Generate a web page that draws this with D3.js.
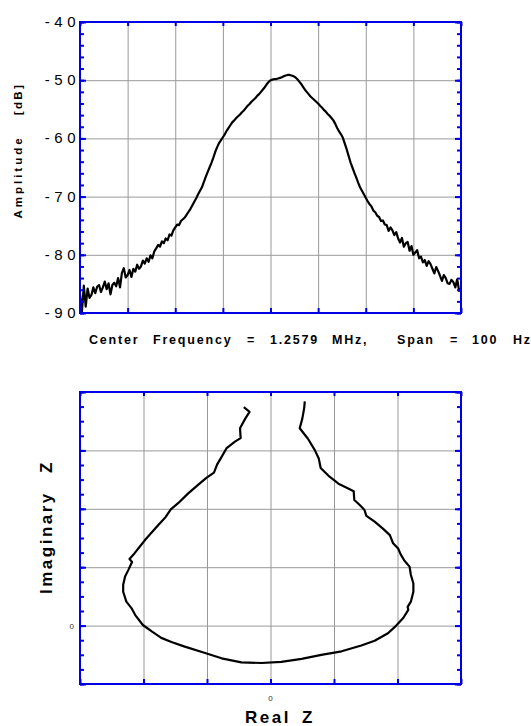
<!DOCTYPE html>
<html>
<head>
<meta charset="utf-8">
<script src="https://d3js.org/d3.v7.min.js"></script>
<style>
  body { margin: 0; background: #fff; }
  svg { display: block; font-family: "Liberation Sans", Arial, sans-serif; }
</style>
</head>
<body>
<svg id="drawing_region"></svg>
<script>
// spectrum around the centre frequency, one sample every 0.5 Hz
const spanStartHz = -50;
const spanStepHz = 0.5;
const amplitudeDb = [
  -86.8, -89.8, -85.3, -88.9, -85.8, -87.4, -86.9, -85.6, -86.6, -85.5,
  -85.2, -86.4, -85.6, -84.6, -85.9, -84.9, -86.8, -85.2, -84.8, -85.4,
  -84.0, -85.6, -83.1, -82.3, -83.9, -83.5, -82.6, -83.8, -82.4, -82.9,
  -81.7, -82.4, -82.0, -81.0, -81.5, -80.6, -81.2, -80.1, -80.6, -79.4,
  -78.9, -78.3, -78.6, -77.7, -78.0, -77.2, -77.5, -76.5, -76.7, -75.8,
  -75.3, -74.8, -74.9, -74.2, -73.9, -73.6, -73.1, -72.6, -72.1, -71.5,
  -70.9, -70.3, -69.6, -69.0, -68.4, -67.5, -66.6, -65.8, -65.0, -64.2,
  -63.3, -62.3, -61.5, -60.8, -60.3, -59.8, -59.3, -58.7, -58.2, -57.7,
  -57.2, -56.9, -56.5, -56.2, -55.9, -55.5, -55.2, -54.8, -54.4, -54.1,
  -53.7, -53.4, -53.1, -52.7, -52.4, -52.0, -51.6, -51.2, -50.7, -50.3,
  -50.0, -49.9, -49.8, -49.8, -49.7, -49.6, -49.5, -49.3, -49.2, -49.1,
  -49.1, -49.2, -49.3, -49.5, -49.8, -50.2, -50.6, -51.1, -51.6, -52.0,
  -52.4, -52.8, -53.1, -53.4, -53.7, -54.0, -54.4, -54.7, -55.1, -55.4,
  -55.8, -56.1, -56.5, -56.9, -57.5, -58.2, -58.8, -59.3, -59.9, -60.9,
  -61.9, -63.0, -64.1, -65.0, -65.9, -66.7, -67.6, -68.4, -69.0, -69.6,
  -70.2, -70.8, -71.3, -71.7, -72.4, -72.7, -73.3, -73.5, -74.2, -74.1,
  -74.8, -74.9, -75.9, -75.3, -75.8, -76.6, -76.1, -77.2, -77.9, -77.1,
  -78.6, -78.0, -77.8, -79.3, -78.5, -80.0, -79.6, -79.2, -80.6, -80.3,
  -81.3, -80.9, -81.9, -81.1, -81.6, -82.4, -83.2, -82.1, -82.8, -83.6,
  -84.5, -83.5, -84.0, -84.9, -85.0, -84.3, -84.7, -85.6, -84.2, -86.2,
  -85.8
];
const ampTicks = [-40, -50, -60, -70, -80, -90];
const ampTickLabels = ["-40", "-50", "-60", "-70", "-80", "-90"];
const freqGrid = [-50, -37.5, -25, -12.5, 0, 12.5, 25, 37.5, 50];

// impedance locus (grid units)
const realZ = [
  -0.42, -0.33, -0.40, -0.48, -0.47, -0.56, -0.69, -0.77, -0.84, -0.89,
  -1.01, -1.15, -1.30, -1.45, -1.57, -1.65, -1.77, -1.90, -1.98, -2.06,
  -2.14, -2.22, -2.18, -2.24, -2.29, -2.32, -2.32, -2.27, -2.19, -2.13,
  -2.01, -1.87, -1.72, -1.56, -1.35, -1.03, -0.77, -0.46, -0.14, 0.17,
  0.49, 0.80, 1.12, 1.43, 1.64, 1.85, 1.98, 2.09, 2.17, 2.16,
  2.21, 2.25, 2.25, 2.21, 2.19, 2.11, 2.05, 2.01, 1.93, 1.88,
  1.77, 1.64, 1.51, 1.48, 1.41, 1.32, 1.31, 1.20, 1.07, 0.93,
  0.79, 0.76, 0.70, 0.59, 0.46, 0.50, 0.53, 0.54
];
const imagZ = [
  3.74, 3.66, 3.54, 3.38, 3.21, 3.15, 3.04, 2.89, 2.76, 2.62,
  2.53, 2.40, 2.26, 2.10, 1.99, 1.86, 1.72, 1.56, 1.46, 1.35,
  1.24, 1.14, 1.09, 0.95, 0.84, 0.70, 0.58, 0.41, 0.30, 0.18,
  0.01, -0.10, -0.21, -0.28, -0.36, -0.47, -0.56, -0.63, -0.64, -0.62,
  -0.57, -0.50, -0.44, -0.34, -0.26, -0.13, 0.00, 0.13, 0.27, 0.32,
  0.41, 0.58, 0.72, 0.87, 1.01, 1.11, 1.22, 1.32, 1.41, 1.55,
  1.66, 1.78, 1.88, 1.98, 2.06, 2.15, 2.30, 2.36, 2.43, 2.55,
  2.70, 2.86, 3.00, 3.20, 3.38, 3.54, 3.72, 3.84
];
const realGrid = [-3, -2, -1, 0, 1, 2, 3];
const imagGrid = [-1, 0, 1, 2, 3, 4];

const captionWords = ["Center", "Frequency", "=", "1.2579", "MHz,", "Span", "=", "100", "Hz"];

const BLUE = "#0000e6";

class FramePlot {
    constructor( config ) {
        this.config = config;
        this.init();
    }
    init() {
        let self = this;
        const c = self.config;
        self.chart = d3.select('#drawing_region').append('g')
            .attr('transform', `translate(${c.left}, ${c.top})`);
        self.inner_width = c.right - c.left;
        self.inner_height = c.bottom - c.top;
        self.xscale = d3.scaleLinear().domain(c.xdomain).range([0, self.inner_width]);
        self.yscale = d3.scaleLinear().domain(c.ydomain).range([self.inner_height, 0]);
    }
    grid( xvals, yvals ) {
        let self = this;
        const gx = self.chart.append('g')
            .attr('transform', `translate(0, ${self.inner_height})`)
            .call( d3.axisBottom(self.xscale).tickValues(xvals).tickSize(-self.inner_height).tickFormat("") );
        const gy = self.chart.append('g')
            .call( d3.axisLeft(self.yscale).tickValues(yvals).tickSize(-self.inner_width).tickFormat("") );
        [gx, gy].forEach( g => {
            g.select('.domain').remove();
            g.selectAll('line').attr('stroke', '#999').attr('stroke-width', 1);
        });
    }
    line( data ) {
        let self = this;
        self.chart.append('path')
            .datum(data)
            .attr('fill', 'none')
            .attr('stroke', '#000')
            .attr('stroke-width', 2.2)
            .attr('stroke-linejoin', 'round')
            .attr('d', d3.line().x(d => self.xscale(d[0])).y(d => self.yscale(d[1])));
    }
    frame( xmajor, ymajor, yminor ) {
        let self = this;
        const w = self.inner_width, h = self.inner_height;
        const axes = [
            { ax: d3.axisLeft(self.yscale).tickValues(yminor).tickSize(-4), t: null },
            { ax: d3.axisLeft(self.yscale).tickValues(ymajor).tickSize(-6), t: null },
            { ax: d3.axisRight(self.yscale).tickValues(yminor).tickSize(-4), t: `translate(${w},0)` },
            { ax: d3.axisRight(self.yscale).tickValues(ymajor).tickSize(-6), t: `translate(${w},0)` },
            { ax: d3.axisTop(self.xscale).tickValues(xmajor).tickSize(-4), t: null },
            { ax: d3.axisBottom(self.xscale).tickValues(xmajor).tickSize(-5), t: `translate(0,${h})` }
        ];
        axes.forEach( a => {
            const g = self.chart.append('g').call( a.ax.tickFormat("") );
            if (a.t) g.attr('transform', a.t);
            g.select('.domain').remove();
            g.selectAll('line').attr('stroke', BLUE).attr('stroke-width', 2);
        });
        self.chart.append('rect')
            .attr('width', w).attr('height', h)
            .attr('fill', 'none')
            .attr('stroke', BLUE)
            .attr('stroke-width', 2);
    }
}

const svg = d3.select('#drawing_region').attr('width', 531).attr('height', 726);

// ---- spectrum panel
const spec = new FramePlot({ left: 80, right: 461, top: 22, bottom: 313,
                             xdomain: [-50, 50], ydomain: [-90, -40] });
const specData = amplitudeDb.map( (v, i) => [spanStartHz + i * spanStepHz, v] );
spec.grid( freqGrid.slice(1, -1), ampTicks.slice(1, -1) );
spec.line( specData );
spec.frame( freqGrid, ampTicks, d3.range(-90, -39, 2) );

spec.chart.selectAll('.amp-label')
    .data(ampTicks)
    .enter()
    .append('text')
    .attr('x', 0)
    .attr('y', d => spec.yscale(d) + 5)
    .attr('text-anchor', 'end')
    .attr('font-size', '15px')
    .attr('letter-spacing', '4.5px')
    .attr('fill', '#000')
    .text( (d, i) => ampTickLabels[i] );

svg.append('text')
    .attr('transform', 'translate(22, 177) rotate(-90)')
    .attr('text-anchor', 'middle')
    .attr('font-size', '11.5px').attr('font-weight', 'bold').attr('letter-spacing', '3px')
    .text('Amplitude');
svg.append('text')
    .attr('transform', 'translate(22, 99) rotate(-90)')
    .attr('text-anchor', 'middle')
    .attr('font-size', '11.5px').attr('font-weight', 'bold').attr('letter-spacing', '2.4px')
    .text('[dB]');

const captionX = [89, 153, 247, 270, 332, 397, 450, 472, 513];
svg.selectAll('.caption')
    .data(captionWords)
    .enter()
    .append('text')
    .attr('x', (d, i) => captionX[i])
    .attr('y', 344)
    .attr('font-size', '12.5px')
    .attr('font-weight', 'bold')
    .attr('letter-spacing', '1.8px')
    .text(d => d);

// ---- impedance panel
const imp = new FramePlot({ left: 80, right: 461, top: 392, bottom: 684,
                            xdomain: [-3, 3], ydomain: [-1, 4] });
const impData = realZ.map( (v, i) => [v, imagZ[i]] );
imp.grid( realGrid.slice(1, -1), imagGrid.slice(1, -1) );
imp.line( impData );
imp.frame( realGrid, imagGrid, d3.range(-1, 4.01, 0.25) );

imp.chart.append('text')
    .attr('x', -6).attr('y', imp.yscale(0) + 3)
    .attr('text-anchor', 'end')
    .attr('font-size', '8px').attr('fill', '#333')
    .text('0');
imp.chart.append('text')
    .attr('x', imp.xscale(0)).attr('y', imp.inner_height + 17)
    .attr('text-anchor', 'middle')
    .attr('font-size', '8px').attr('fill', '#333')
    .text('0');

svg.append('text')
    .attr('x', 245).attr('y', 723)
    .attr('font-size', '17px').attr('font-weight', 'bold').attr('letter-spacing', '2.5px')
    .text('Real');
svg.append('text')
    .attr('x', 302).attr('y', 723)
    .attr('font-size', '17px').attr('font-weight', 'bold')
    .text('Z');

svg.append('text')
    .attr('transform', 'translate(52, 594) rotate(-90)')
    .attr('font-size', '17px').attr('font-weight', 'bold').attr('letter-spacing', '2.5px')
    .text('Imaginary');
svg.append('text')
    .attr('transform', 'translate(52, 473) rotate(-90)')
    .attr('font-size', '17px').attr('font-weight', 'bold')
    .text('Z');
</script>
</body>
</html>
